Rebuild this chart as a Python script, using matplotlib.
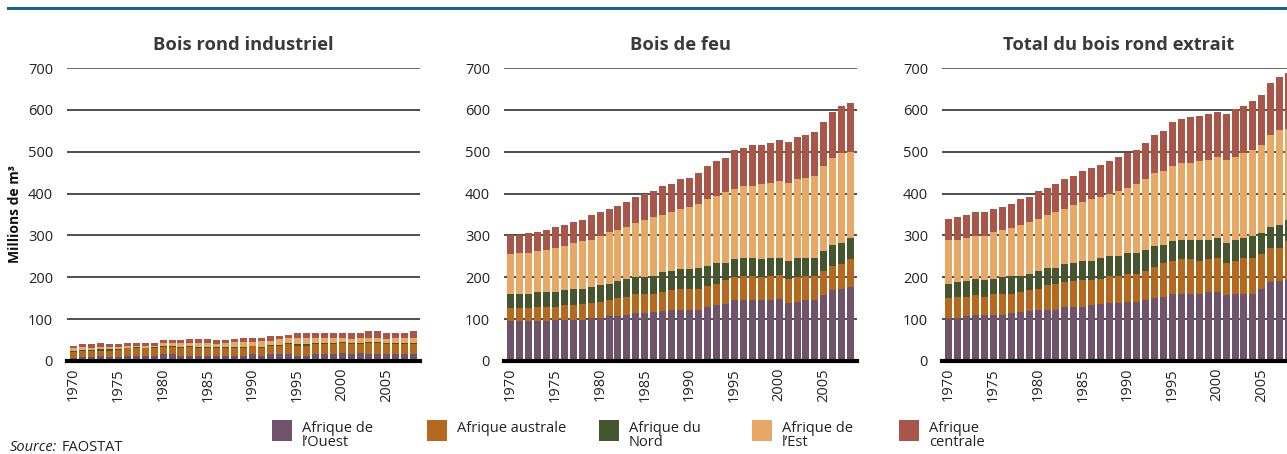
import matplotlib
matplotlib.use("Agg")
import matplotlib.pyplot as plt
import numpy as np
from matplotlib.patches import Rectangle

years = list(range(1970, 2009))
regions = ["Afrique de\nl\u2019Ouest", "Afrique australe", "Afrique du\nNord", "Afrique de\nl\u2019Est", "Afrique\ncentrale"]
colors = ["#6E536B", "#B5691F", "#455530", "#E8A865", "#A8554A"]
titles = ["Bois rond industriel", "Bois de feu", "Total du bois rond extrait"]

# Bois rond industriel (millions m3)
ind_ouest    = [8,10,10,13,10,10,13,13,13,13,16,16,13,13,13,13,13,13,13,13,16,13,16,16,16,13,13,16,16,16,18,16,18,16,16,16,16,16,16]
ind_australe = [14,15,15,12,15,17,17,17,17,19,17,17,17,20,17,17,17,17,17,17,19,17,19,19,24,24,24,24,24,24,24,24,22,26,26,24,24,24,24]
ind_nord     = [2,2,2,3,3,2,2,3,2,2,2,2,3,4,4,4,3,3,3,3,2,4,3,4,3,3,4,3,3,3,4,4,3,4,4,3,4,4,4]
ind_est      = [6,6,3,5,5,4,4,3,5,3,7,7,9,7,10,10,7,9,12,12,8,13,9,13,11,14,13,11,11,11,8,8,11,10,10,9,10,10,10]
ind_centrale = [7,7,10,9,7,7,6,6,7,7,7,7,7,8,8,8,9,7,7,9,11,7,12,7,9,12,12,14,14,12,14,14,12,15,15,14,14,14,17]

# Bois de feu
feu_ouest    = [95,95,95,95,95,97,97,99,99,102,102,107,107,111,114,114,116,119,121,123,123,123,128,133,137,145,145,145,145,145,147,138,142,145,145,158,169,173,177]
feu_australe = [31,31,31,34,34,33,37,35,37,36,40,38,43,43,45,45,45,47,48,48,50,50,50,52,56,55,58,57,55,58,58,58,58,57,57,56,59,58,66]
feu_nord     = [33,33,35,35,35,36,35,37,37,38,39,38,40,41,41,41,43,46,45,48,46,48,48,48,40,43,42,43,43,42,42,44,45,45,45,48,48,50,50]
feu_est      = [96,98,96,98,102,105,105,110,113,114,117,124,124,126,129,136,139,138,143,143,150,155,160,162,170,169,174,174,179,181,184,186,189,191,196,203,208,217,207]
feu_centrale = [47,45,48,47,48,50,52,52,52,58,57,55,57,60,64,64,64,67,67,72,69,74,79,84,83,91,91,96,95,96,96,98,100,103,105,105,112,112,117]

# Total du bois rond extrait
tot_ouest    = [103,103,107,109,109,109,111,114,116,119,121,123,123,128,130,130,133,135,138,138,140,140,145,150,154,159,161,161,161,164,166,157,161,161,161,173,188,190,193]
tot_australe = [47,49,45,48,45,50,50,47,50,50,52,58,60,60,60,63,60,62,64,66,69,69,71,74,79,81,82,82,79,79,81,78,79,84,86,82,81,81,93]
tot_nord     = [35,36,38,38,39,38,39,41,38,40,43,40,40,43,43,45,47,48,48,48,48,50,50,50,45,46,45,45,48,47,48,48,50,48,51,50,52,53,52]
tot_est      = [103,102,103,103,105,110,112,115,120,122,124,129,132,133,139,141,146,148,150,155,157,163,170,174,177,181,186,186,189,191,193,198,198,203,205,212,218,229,217]
tot_centrale = [52,53,55,57,57,55,57,59,62,62,65,64,67,70,71,74,74,76,77,81,82,83,86,91,95,103,103,110,109,108,108,110,113,114,117,119,126,126,134]

panels = [
    [ind_ouest, ind_australe, ind_nord, ind_est, ind_centrale],
    [feu_ouest, feu_australe, feu_nord, feu_est, feu_centrale],
    [tot_ouest, tot_australe, tot_nord, tot_est, tot_centrale],
]

FONT = ["Open Sans", "DejaVu Sans"]
plt.rcParams["font.family"] = FONT

W, H = 1287, 454
fig = plt.figure(figsize=(W / 100, H / 100), dpi=100)

# top blue rule
fig.add_artist(plt.Line2D([8 / W, 1.0], [1 - 8 / H, 1 - 8 / H], color="#1F5F8B", lw=2.2))

lefts = [67, 504, 942]
axw = 353
y0, y1 = 361, 68
x = np.arange(len(years))

for i, (left, data) in enumerate(zip(lefts, panels)):
    ax = fig.add_axes([left / W, (H - y0) / H, axw / W, (y0 - y1) / H])
    bottom = np.zeros(len(years))
    for vals, c in zip(data, colors):
        v = np.array(vals, dtype=float)
        ax.bar(x, v, bottom=bottom, width=0.78, color=c, zorder=2, linewidth=0)
        bottom += v
    ax.set_ylim(0, 700)
    ax.set_xlim(-0.73, 38.7)
    ax.set_yticks(range(0, 701, 100))
    ax.yaxis.grid(True, color="#1e1e1e", lw=1.1, zorder=0)
    gl = ax.get_ygridlines()
    gl[-1].set_color("#666666")
    gl[-1].set_linewidth(1.4)
    ax.set_axisbelow(True)
    for s in ["left", "right", "top"]:
        ax.spines[s].set_visible(False)
    ax.spines["bottom"].set_linewidth(3)
    ax.spines["bottom"].set_color("black")
    ax.spines["bottom"].set_zorder(3)
    ticks = [j for j, yv in enumerate(years) if yv % 5 == 0]
    ax.set_xticks(ticks)
    ax.set_xticklabels([str(years[j]) for j in ticks], rotation=90, fontsize=10.5, color="#222222")
    ax.tick_params(axis="both", length=0, pad=5, labelsize=10.5, labelcolor="#222222")
    ax.tick_params(axis="y", pad=10)
    ax.set_title(titles[i], fontsize=13.2, fontweight="bold", color="#3a3a3a", pad=13)
    if i == 0:
        ax.set_ylabel("Millions de m\u00b3", fontsize=10, fontweight="bold", color="#111111", labelpad=4)

# legend
leg_x = [272, 427, 599, 752, 899]
for lx, lab, c in zip(leg_x, regions, colors):
    fig.add_artist(Rectangle((lx / W, (H - 441) / H), 20 / W, 21 / H, transform=fig.transFigure,
                             facecolor=c, edgecolor="none"))
    fig.text((lx + 30) / W, (H - 421) / H, lab, fontsize=10.5, va="top", ha="left",
             color="#222222", linespacing=0.95)

fig.text(10 / W, (H - 440) / H, "Source:", fontsize=10.5, style="italic", va="top", ha="left", color="#222222")
fig.text(62 / W, (H - 440) / H, "FAOSTAT", fontsize=10.5, va="top", ha="left", color="#222222")

fig.savefig("out.png", dpi=100)
